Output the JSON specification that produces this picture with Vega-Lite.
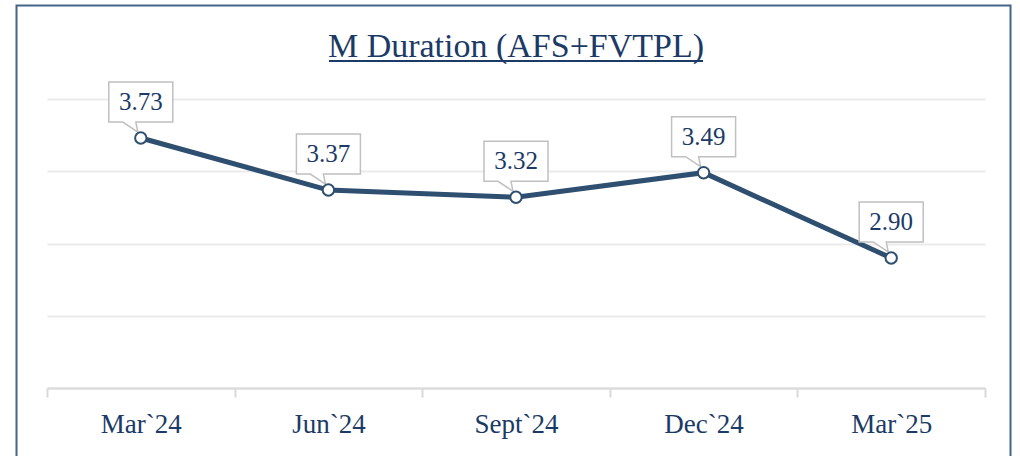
{
  "$schema": "https://vega.github.io/schema/vega-lite/v6.json",
  "width": 938,
  "height": 289,
  "autosize": {"type": "none"},
  "padding": {"left": 47, "top": 99, "right": 35, "bottom": 68},
  "background": "white",
  "title": {"text": "M Duration (AFS+FVTPL)", "font": "Liberation Serif", "fontSize": 34, "fontWeight": "normal", "color": "#1b3a66", "anchor": "middle", "offset": -86.5, "baseline": "alphabetic"},
  "config": {"view": {"stroke": null}, "font": "Liberation Serif"},
  "resolve": {"scale": {"x": "independent"}},
  "layer": [
    {
      "data": {"values": [{"frame": 1}]},
      "layer": [
        {
          "mark": {"type": "rect", "fill": null, "stroke": "#44648a", "strokeWidth": 2},
          "encoding": {
            "x": {"datum": -0.0325, "type": "quantitative", "scale": {"domain": [0, 1]}, "axis": null},
            "x2": {"datum": 1.0272},
            "y": {"datum": 4.647, "type": "quantitative", "scale": {"domain": [2, 4], "nice": false, "zero": false}, "axis": {"values": [2, 2.5, 3, 3.5, 4], "grid": true, "gridColor": "#ebebeb", "gridWidth": 2, "labels": false, "ticks": false, "domain": false, "title": null}},
            "y2": {"datum": 1.43}
          }
        },
        {
          "mark": {"type": "rule", "color": "#1b3a66", "strokeWidth": 2},
          "encoding": {
            "x": {"datum": 0.3006, "type": "quantitative", "scale": {"domain": [0, 1]}, "axis": null},
            "x2": {"datum": 0.6994},
            "y": {"datum": 4.263, "type": "quantitative"}
          }
        }
      ]
    },
    {
      "data": {"values": [
        {"month": "Mar`24", "value": 3.73, "label": "3.73"},
        {"month": "Jun`24", "value": 3.37, "label": "3.37"},
        {"month": "Sept`24", "value": 3.32, "label": "3.32"},
        {"month": "Dec`24", "value": 3.49, "label": "3.49"},
        {"month": "Mar`25", "value": 2.90, "label": "2.90"}
      ]},
      "encoding": {
        "x": {"field": "month", "type": "nominal", "sort": null,
          "scale": {"type": "band", "paddingInner": 0, "paddingOuter": 0, "domain": ["Mar`24", "Jun`24", "Sept`24", "Dec`24", "Mar`25"]},
          "axis": {"title": null, "labelAngle": 0, "tickBand": "extent", "domainColor": "#d9d9d9", "domainWidth": 2, "tickColor": "#d9d9d9", "tickWidth": 2, "tickSize": 9, "labelFont": "Liberation Serif", "labelFontSize": 27, "labelColor": "#1b3a66", "labelPadding": 14, "grid": false}},
        "y": {"field": "value", "type": "quantitative",
          "scale": {"domain": [2, 4], "nice": false, "zero": false},
          "axis": {"values": [2, 2.5, 3, 3.5, 4], "grid": true, "gridColor": "#ebebeb", "gridWidth": 2, "labels": false, "ticks": false, "domain": false, "title": null}}
      },
      "layer": [
        {"mark": {"type": "line", "color": "#2f4f70", "strokeWidth": 5}},
        {"mark": {"type": "point", "shape": "M-32,-56H32V-16H-5L-3,-6L-18,-16H-32Z", "size": 4, "filled": true, "fill": "white", "stroke": "#c0c0c0", "strokeWidth": 1.5, "opacity": 1, "fillOpacity": 1, "strokeOpacity": 1}},
        {"mark": {"type": "point", "shape": "circle", "size": 130, "filled": false, "fill": "white", "stroke": "#2f4f70", "strokeWidth": 2, "opacity": 1, "fillOpacity": 1}},
        {"mark": {"type": "text", "dy": -36, "fontSize": 25, "color": "#1b3a66", "baseline": "middle", "font": "Liberation Serif"}, "encoding": {"text": {"field": "label"}}}
      ]
    }
  ]
}
